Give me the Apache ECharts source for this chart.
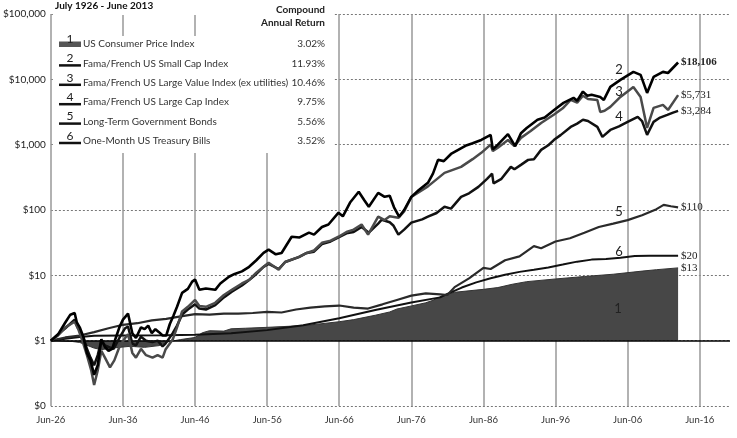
<!DOCTYPE html>
<html>
<head>
<meta charset="utf-8">
<script src="https://cdn.jsdelivr.net/npm/echarts@6/dist/echarts.min.js"></script>
<style>
  html, body { margin: 0; padding: 0; background: #fff; }
  #chart { width: 737px; height: 438px; }
</style>
</head>
<body>
<div id="chart"></div>
<script>
// x values are years counted from Jun-1926
var tickLabels = ['Jun-26', 'Jun-36', 'Jun-46', 'Jun-56', 'Jun-66', 'Jun-76', 'Jun-86', 'Jun-96', 'Jun-06', 'Jun-16'];

var names = [
    'US Consumer Price Index',
    'Fama/French US Small Cap Index',
    'Fama/French US Large Value Index (ex utilities)',
    'Fama/French US Large Cap Index',
    'Long-Term Government Bonds',
    'One-Month US Treasury Bills'
];
var returns = ['3.02%', '11.93%', '10.46%', '9.75%', '5.56%', '3.52%'];

var cpi = [[0,1],[3,0.97],[4,0.94],[5,0.85],[6,0.77],[7,0.73],[9,0.78],[11,0.82],[13,0.79],[15,0.84],[16,0.95],
    [18,1.04],[20,1.12],[21,1.32],[22,1.42],[24,1.40],[25,1.52],[27,1.55],[30,1.60],[33,1.66],[36,1.74],[40,1.95],
    [42,2.10],[45,2.45],[47,2.75],[48,3.05],[50,3.40],[52,3.80],[53,4.15],[54,4.70],[55,5.20],[56,5.50],[58,5.80],
    [60,6.10],[62,6.50],[64,7.30],[66,8.00],[70,8.80],[74,9.60],[78,10.4],[82,11.6],[84,12.2],[87,13]];

var smallCap = [[0,1],[1,1.25],[2,1.9],[2.7,2.5],[3.3,2.65],[3.6,1.9],[4,1.6],[4.5,1.15],[5,0.65],[5.5,0.5],[6,0.3],
    [6.5,0.42],[7,1.05],[7.5,0.8],[8,0.7],[8.5,0.75],[9,1.1],[9.5,1.6],[10,2.1],[10.7,2.6],[11.3,1.3],[11.8,1.1],
    [12.5,1.6],[13,1.5],[13.5,1.7],[14,1.3],[14.5,1.5],[15,1.35],[15.5,1.2],[16,1.2],[16.5,1.8],[17,2.4],[17.5,3.3],
    [18.2,5.4],[19,6.2],[19.6,8.0],[20,8.6],[20.6,6.0],[21.5,6.3],[22.8,6.0],[23.5,7.5],[24.7,9.5],[25.5,10.5],
    [26.5,11.5],[27.5,13.5],[28.5,17],[29.5,22],[30.2,24.7],[31.2,21],[32,22],[33.4,39],[34.5,38],[35.8,45],
    [36.5,42],[37.6,55],[38.5,60],[39.9,91],[40.5,80],[41.5,130],[42.7,190],[43.5,140],[44.1,112],[45.4,183],
    [46.3,159],[47,165],[47.6,110],[48.3,79],[49,100],[50,159],[51,200],[52.3,261],[53,360],[53.7,586],[54.5,560],
    [55.5,720],[56.5,832],[57.5,960],[58.5,1050],[59.7,1180],[61,1410],[61.3,850],[62,1000],[63.4,1450],[64.4,950],
    [65.2,1500],[66,1800],[67.5,2400],[68.5,2600],[69.8,3400],[71.1,4360],[72.5,5200],[73,4700],[73.8,6500],
    [74.4,5600],[75,5800],[76.2,5380],[76.7,4840],[77.6,7650],[79,9800],[80.8,13000],[81.8,11700],[82.7,6200],
    [83.6,10900],[84.9,13000],[85.6,12500],[87,18106]];

var largeValue = [[0,1],[1,1.2],[2,1.6],[3.3,1.95],[3.8,1.5],[4.5,0.9],[5,0.6],[5.6,0.35],[6,0.21],[6.5,0.35],[7,0.7],
    [7.5,0.55],[8.2,0.39],[8.8,0.5],[9.5,0.8],[10.3,1.1],[10.7,1.25],[11.3,0.65],[11.8,0.55],[12.5,0.75],[13.2,0.6],
    [14.1,0.55],[14.8,0.6],[15.5,0.55],[15.9,0.73],[16.9,1.04],[17.5,1.6],[18.2,2.8],[19,3.3],[20,4.2],[20.6,3.4],
    [21.5,3.3],[22.8,3.8],[24,5.0],[25.1,6.0],[26.5,7.5],[27.5,8.5],[28.5,11],[29.5,13.5],[30.2,15.6],[31.6,12.2],
    [32.5,16],[34.4,19.2],[35.5,22],[36.5,24],[37.6,31.5],[38.8,34],[39.9,39],[41,46],[42,50],[43.1,60],[44,42],
    [45.4,79],[46.3,70],[47,80],[48.2,76],[49,95],[50,159],[52.3,230],[54.6,370],[56.9,457],[58.5,600],[59.7,750],
    [61,1000],[61.3,800],[62,900],[63.4,1180],[64.3,950],[65.2,1270],[66.5,1600],[68,2150],[69.8,2900],[71,3600],
    [72.1,4840],[73,4400],[73.8,5600],[74.5,5000],[75.8,4840],[76.2,3170],[76.8,3300],[77.6,3790],[79,5380],
    [80.8,7650],[81.8,5380],[82.7,1807],[83.6,3650],[84.9,4060],[85.6,3400],[87,5731]];

var largeCap = [[0,1],[1,1.25],[2,1.55],[3.3,2.1],[3.7,1.6],[4.5,1.15],[5,0.75],[5.5,0.55],[6,0.42],[6.5,0.6],[7,1.0],
    [7.5,0.85],[8,0.8],[8.7,0.75],[9.5,1.1],[10.3,1.55],[10.7,1.65],[11.3,0.9],[11.8,0.85],[12.5,1.15],[13.2,1.0],
    [14.1,0.95],[14.8,1.0],[15.5,0.82],[15.9,0.9],[16.9,1.3],[17.5,1.7],[18.2,2.5],[19,3.0],[20,3.6],[20.6,3.1],
    [21.5,3.0],[22.8,3.5],[24,4.6],[25.1,5.6],[26.5,7.0],[27.5,8.5],[28.5,10.5],[29.5,13.5],[30.2,15],[31.6,12.5],
    [32.5,16],[34.4,19],[35.5,22],[36.5,23],[37.6,30],[38.8,33],[39.9,38],[41,44],[42,46],[43.1,55],[44.1,45],
    [45.4,62],[45.9,71],[47,65],[47.5,58],[48.2,42],[49,50],[50,64],[51.5,72],[52.3,79],[53.5,90],[54.6,112],
    [55.5,105],[56.9,159],[58,180],[59.3,226],[60.5,300],[61.2,360],[61.4,255],[62.5,300],[63.8,457],[64.3,420],
    [65.2,491],[66.2,585],[67,600],[68,832],[69,980],[69.8,1185],[70.7,1400],[72.1,1870],[73,2100],[73.8,2400],
    [74.5,2300],[75.8,1870],[76.5,1318],[77.6,1680],[78.8,1900],[80,2230],[81.4,2660],[82,2300],[82.7,1410],
    [83.6,2230],[84.5,2600],[85.5,2860],[86.3,3100],[87,3284]];

var govBonds = [[0,1],[2,1.12],[4,1.2],[6,1.35],[8,1.55],[10,1.75],[12,1.85],[14,2.05],[16,2.15],[18,2.35],[20,2.55],
    [22,2.5],[24,2.6],[26,2.6],[28,2.65],[30,2.75],[32,2.7],[34,3.0],[36,3.2],[38,3.35],[40,3.45],[42,3.2],[44,3.1],
    [46,3.6],[48,4.2],[50,4.9],[52,5.3],[54,5.1],[55,5.0],[56,6.6],[58,9.0],[60,13],[61,12.5],[63,17],[65,19.5],
    [67,28],[68,26],[70,33],[72,37],[74,45],[76,55],[78,62],[80,70],[82,83],[84,103],[85,120],[86,114],[87,110]];

var tBills = [[0,1],[2,1.07],[4,1.14],[6,1.19],[10,1.2],[16,1.21],[20,1.23],[25,1.3],[30,1.45],[35,1.72],[40,2.2],
    [45,2.95],[50,3.85],[54,4.6],[55,5.2],[57,6.5],[59,7.8],[61,9.0],[63,10.2],[65,11.3],[67,12.2],[69,13.2],
    [71,14.6],[73,16.2],[75,17.4],[77,17.8],[79,18.6],[81,19.7],[83,19.95],[85,20],[87,20]];

var FONT = 'Lato, "Liberation Sans", sans-serif';

function dollar(v) {
    if (v < 1) return '$0';
    return '$' + Math.round(v).toLocaleString('en-US');
}

function endLabel(bold) {
    return {
        show: true,
        distance: 3,
        formatter: function (p) { return dollar(p.value[1]); },
        color: '#222',
        fontFamily: '"Liberation Serif", serif',
        fontSize: 11,
        fontWeight: bold ? 'bold' : 'normal'
    };
}

function line(name, data, color, width, z, bold) {
    return {
        name: name,
        type: 'line',
        data: data,
        symbol: 'none',
        z: z,
        lineStyle: { color: color, width: width },
        endLabel: endLabel(bold)
    };
}

// legend panel drawn by hand
var graphics = [
    { type: 'rect', z: 100, shape: { x: 54, y: 0, width: 279, height: 15 }, style: { fill: '#fff' } },
    { type: 'rect', z: 100, shape: { x: 250, y: 0, width: 83, height: 37 }, style: { fill: '#fff' } },
    { type: 'rect', z: 100, shape: { x: 54, y: 36, width: 279, height: 117 }, style: { fill: '#fff' } },
    { type: 'text', z: 101, x: 55, y: 6, style: { text: 'July 1926 - June 2013', font: 'bold 10px ' + FONT, fill: '#111', verticalAlign: 'middle', textVerticalAlign: 'middle' } },
    { type: 'text', z: 101, x: 325, y: 9.5, style: { text: 'Compound', font: 'bold 10px ' + FONT, fill: '#222', align: 'right', textAlign: 'right', verticalAlign: 'middle', textVerticalAlign: 'middle' } },
    { type: 'text', z: 101, x: 325, y: 23, style: { text: 'Annual Return', font: 'bold 10px ' + FONT, fill: '#222', align: 'right', textAlign: 'right', verticalAlign: 'middle', textVerticalAlign: 'middle' } }
];
names.forEach(function (n, i) {
    var y = 44 + i * 19.4;
    if (i === 0) {
        graphics.push({ type: 'rect', z: 101, shape: { x: 59, y: y - 2.5, width: 22, height: 5.5 }, style: { fill: '#555' } });
    } else {
        graphics.push({ type: 'line', z: 101, shape: { x1: 59, y1: y + 2, x2: 81, y2: y + 2 }, style: { stroke: '#111', lineWidth: 2.5 } });
    }
    graphics.push({ type: 'text', z: 102, x: 70, y: y - 5, style: { text: String(i + 1), font: '12px ' + FONT, fill: '#222', align: 'center', textAlign: 'center', verticalAlign: 'middle', textVerticalAlign: 'middle' } });
    graphics.push({ type: 'text', z: 101, x: 83, y: y, style: { text: n, font: '10px ' + FONT, fill: '#333', verticalAlign: 'middle', textVerticalAlign: 'middle' } });
    graphics.push({ type: 'text', z: 101, x: 325, y: y, style: { text: returns[i], font: '10px ' + FONT, fill: '#333', align: 'right', textAlign: 'right', verticalAlign: 'middle', textVerticalAlign: 'middle' } });
});
// series numbers next to the lines
[['2', 619, 70], ['3', 619, 92], ['4', 619, 117], ['5', 619, 212], ['6', 619, 252], ['1', 618, 309]].forEach(function (a) {
    graphics.push({ type: 'text', z: 50, x: a[1], y: a[2], style: { text: a[0], font: '13px ' + FONT, fill: '#222', align: 'center', textAlign: 'center', verticalAlign: 'middle', textVerticalAlign: 'middle' } });
});

var chart = echarts.init(document.getElementById('chart'));
chart.setOption({
    animation: false,
    backgroundColor: '#fff',
    grid: { left: 48, right: 7, top: 14, bottom: 32, containLabel: false },
    xAxis: {
        type: 'value',
        min: 0,
        max: 94.2,
        interval: 10,
        axisLine: { show: false },
        axisTick: { show: false },
        axisLabel: {
            formatter: function (v) { return v % 10 === 0 ? tickLabels[v / 10] : ''; },
            margin: 9,
            fontSize: 9.5,
            color: '#333',
            fontFamily: FONT
        },
        splitLine: { show: true, showMaxLine: false, lineStyle: { color: '#999', width: 1.5 } }
    },
    yAxis: {
        type: 'log',
        logBase: 10,
        min: 0.1,
        max: 100000,
        axisLine: { show: false },
        axisTick: { show: false },
        axisLabel: { formatter: dollar, margin: 5, fontSize: 10, color: '#222', fontFamily: FONT },
        splitLine: { lineStyle: { color: '#777', type: [2, 2], width: 1 } }
    },
    graphic: graphics,
    series: [
        {
            name: names[0],
            type: 'line',
            data: cpi,
            symbol: 'none',
            z: 1,
            lineStyle: { color: '#333', width: 1 },
            areaStyle: { color: '#474747', opacity: 1, origin: 1 },
            endLabel: endLabel(false),
            markLine: {
                silent: true,
                symbol: 'none',
                label: { show: false },
                lineStyle: { color: '#000', type: 'solid', width: 1.5 },
                data: [{ yAxis: 1 }]
            }
        },
        line(names[5], tBills, '#111', 2, 3, false),
        line(names[4], govBonds, '#2a2a2a', 2.2, 4, false),
        line(names[3], largeCap, '#111', 2.5, 5, false),
        line(names[2], largeValue, '#4a4a4a', 2.5, 6, false),
        line(names[1], smallCap, '#000', 2.6, 7, true)
    ]
});
</script>
</body>
</html>
